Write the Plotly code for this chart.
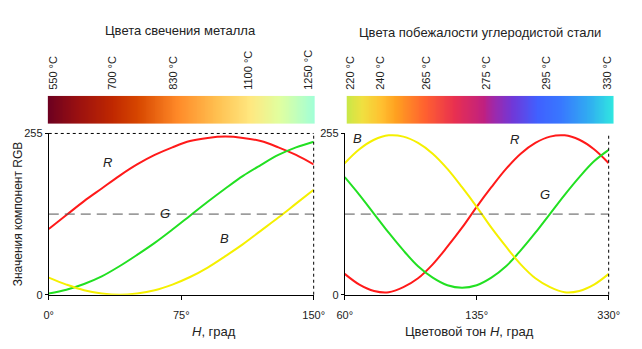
import numpy as np
import plotly.graph_objects as go

# ---- data ----
H_left = [0, 10, 20, 30, 40, 50, 60, 70, 80, 90, 100, 110, 120, 130, 140, 150]
R_left = [104, 126, 148, 168, 188, 206, 221, 233, 243, 248, 250, 248, 243, 233, 221, 206]
G_left = [2, 8, 17, 29, 45, 63, 82, 103, 125, 147, 168, 188, 205, 221, 233, 242]
B_left = [27, 16, 7, 2, 0, 2, 7, 16, 28, 43, 61, 80, 101, 122, 144, 166]

H_right = [60, 75, 90, 105, 120, 135, 150, 165, 180, 195, 210, 225, 240, 255, 270, 285, 300, 315, 330]
R_right = [33, 16, 6, 4, 12, 26, 48, 76, 106, 139, 170, 199, 223, 240, 250, 252, 245, 230, 208]
G_right = [186, 158, 128, 98, 70, 45, 27, 15, 11, 15, 27, 45, 70, 98, 128, 158, 186, 211, 229]
B_right = [208, 230, 245, 252, 250, 240, 223, 199, 170, 139, 106, 76, 48, 26, 12, 4, 6, 16, 33]

MID = 127.5

left_xticks = [0, 75, 150]
left_xticktext = ["0°", "75°", "150°"]
right_xticks = [60, 195, 330]
right_xticktext = ["60°", "135°", "330°"]

metal_pos = [0.021, 0.241, 0.469, 0.753, 0.978]
metal_labels = ["550 °C", "700 °C", "830 °C", "1100 °C", "1250 °C"]
temper_pos = [0.013, 0.128, 0.298, 0.523, 0.747, 0.977]
temper_labels = ["220 °C", "240 °C", "265 °C", "275 °C", "295 °C", "330 °C"]

metal_scale = [[0, "#6c0020"], [0.113, "#9a1010"], [0.244, "#c02800"], [0.342, "#d84800"],
               [0.487, "#ff8a28"], [0.633, "#ffc050"], [0.76, "#ffe880"], [0.869, "#e0ffa0"],
               [1, "#a0ffd8"]]
temper_scale = [[0, "#c8e848"], [0.058, "#f0e040"], [0.131, "#ffc030"], [0.185, "#ffa020"],
                [0.295, "#ff6030"], [0.404, "#e83050"], [0.513, "#c02080"], [0.549, "#a028a8"],
                [0.622, "#7038d8"], [0.713, "#4060ff"], [0.804, "#3878ff"], [0.913, "#30b0f0"],
                [1, "#30e8e0"]]

W, Hh = 642, 349
FONT = "Liberation Sans, Arial, sans-serif"
RED, GREEN, YELLOW = "#ff1a1a", "#22e022", "#f5f000"

fig = go.Figure()

# curves left
for ys, c in [(R_left, RED), (G_left, GREEN), (B_left, YELLOW)]:
    fig.add_trace(go.Scatter(x=H_left, y=ys, mode="lines", line=dict(color=c, width=2, shape="spline"),
                             xaxis="x", yaxis="y", showlegend=False, hoverinfo="skip"))
fig.add_trace(go.Scatter(x=[H_left[0], H_left[-1]], y=[MID, MID], mode="lines",
                         line=dict(color="#555555", width=1, dash="10px,6px"),
                         xaxis="x", yaxis="y", showlegend=False, hoverinfo="skip"))
# curves right
for ys, c in [(R_right, RED), (G_right, GREEN), (B_right, YELLOW)]:
    fig.add_trace(go.Scatter(x=H_right, y=ys, mode="lines", line=dict(color=c, width=2, shape="spline"),
                             xaxis="x2", yaxis="y2", showlegend=False, hoverinfo="skip"))
fig.add_trace(go.Scatter(x=[H_right[0], H_right[-1]], y=[MID, MID], mode="lines",
                         line=dict(color="#555555", width=1, dash="10px,6px"),
                         xaxis="x2", yaxis="y2", showlegend=False, hoverinfo="skip"))

# color bars
grad = list(np.linspace(0, 1, 300))
fig.add_trace(go.Heatmap(z=[grad], x=grad, y=[0], colorscale=metal_scale, showscale=False,
                         zmin=0, zmax=1, xaxis="x3", yaxis="y3", hoverinfo="skip"))
fig.add_trace(go.Heatmap(z=[grad], x=grad, y=[0], colorscale=temper_scale, showscale=False,
                         zmin=0, zmax=1, xaxis="x4", yaxis="y4", hoverinfo="skip"))

tickfont = dict(family=FONT, size=11, color="#222222")
plot_ydom = [50 / Hh, 217 / Hh]
bar_ydom = [(Hh - 122) / Hh, (Hh - 93) / Hh]

common_x = dict(showline=True, linecolor="black", linewidth=1, ticks="outside", ticklen=4,
                tickcolor="black", showgrid=False, zeroline=False, tickfont=tickfont,
                ticklabelstandoff=6)
common_y = dict(showline=True, linecolor="black", linewidth=1, ticks="outside", ticklen=3,
                tickcolor="black", showgrid=False, zeroline=False, tickfont=tickfont,
                range=[0, 255], tickvals=[0, 255], ticktext=["0", "255"])

fig.update_layout(
    width=W, height=Hh, margin=dict(l=0, r=0, t=0, b=0),
    paper_bgcolor="white", plot_bgcolor="white",
    xaxis=dict(domain=[42 / W, 315 / W], range=[H_left[0], H_left[-1]], tickvals=left_xticks,
               ticktext=left_xticktext, anchor="y", **common_x),
    yaxis=dict(domain=plot_ydom, anchor="x", **common_y),
    xaxis2=dict(domain=[347 / W, 619 / W], range=[H_right[0], H_right[-1]], tickvals=right_xticks,
                ticktext=right_xticktext, anchor="y2", **common_x),
    yaxis2=dict(domain=plot_ydom, anchor="x2", **common_y),
    xaxis3=dict(domain=[41 / W, 316 / W], range=[0, 1], anchor="y3", side="top", tickvals=metal_pos,
                ticktext=metal_labels, tickangle=-90, ticks="", showgrid=False, zeroline=False,
                showline=False, tickfont=tickfont, ticklabelstandoff=5),
    yaxis3=dict(domain=bar_ydom, anchor="x3", visible=False),
    xaxis4=dict(domain=[349 / W, 624 / W], range=[0, 1], anchor="y4", side="top", tickvals=temper_pos,
                ticktext=temper_labels, tickangle=-90, ticks="", showgrid=False, zeroline=False,
                showline=False, tickfont=tickfont, ticklabelstandoff=5),
    yaxis4=dict(domain=bar_ydom, anchor="x4", visible=False),
)

# dotted borders
dot = dict(color="black", width=1, dash="dot")
fig.add_shape(type="line", xref="x domain", yref="y domain", x0=0, x1=1, y0=1, y1=1, line=dot)
fig.add_shape(type="line", xref="x domain", yref="y domain", x0=1, x1=1, y0=0, y1=1, line=dot)
fig.add_shape(type="line", xref="x2 domain", yref="y2 domain", x0=1, x1=1, y0=0, y1=1, line=dot)

def px_ann(text, x, y, size=12, angle=0):
    fig.add_annotation(text=text, xref="paper", yref="paper", x=x / W, y=1 - y / Hh,
                       showarrow=False, textangle=angle, xanchor="center", yanchor="middle",
                       font=dict(family=FONT, size=size, color="#222222"))

px_ann("Цвета свечения металла", 178, 25, size=13)
px_ann("Цвета побежалости углеродистой стали", 486, 27, size=13)
px_ann("Значения компонент RGB", 10, 215, size=12, angle=-90)
px_ann("<i>H</i>, град", 212, 337, size=13)
px_ann("Цветовой тон <i>H</i>, град", 476, 337, size=13)

def data_ann(text, x, y, xa, ya):
    fig.add_annotation(text=f"<i>{text}</i>", xref=xa, yref=ya, x=x, y=y, showarrow=False,
                       font=dict(family=FONT, size=13, color="#222222"))

data_ann("R", 33.5, 209, "x", "y")
data_ann("G", 66, 128, "x", "y")
data_ann("B", 99.5, 89, "x", "y")
data_ann("B", 73, 247, "x2", "y2")
data_ann("R", 234, 246, "x2", "y2")
data_ann("G", 264.5, 158, "x2", "y2")

fig.write_html("out.html")
